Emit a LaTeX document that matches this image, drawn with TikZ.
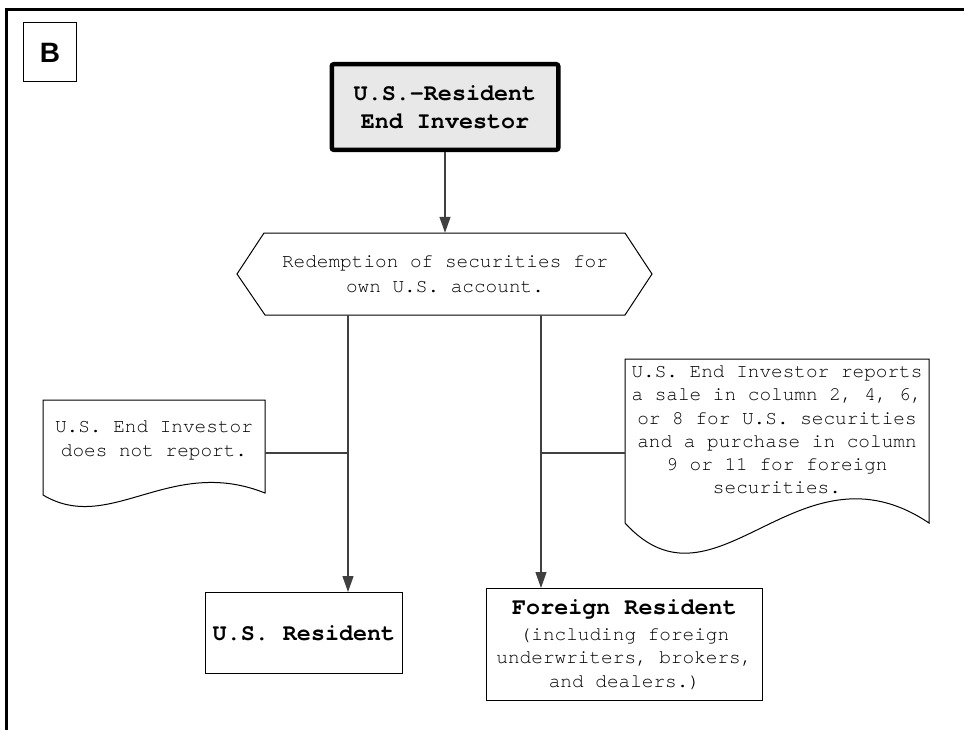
\documentclass[tikz,border=0pt]{standalone}
\usepackage{fontspec}
\setmonofont{TeX Gyre Cursor}
\newfontfamily\arialfont{Liberation Sans}
\usetikzlibrary{arrows.meta}
\begin{document}
\begin{tikzpicture}[x=1bp,y=-1bp,
  txt/.style={font=\fontsize{19.4bp}{23.3bp}\selectfont\ttfamily, align=center, inner sep=0pt},
  boldtxt/.style={font=\fontsize{23.4bp}{28bp}\selectfont\ttfamily\bfseries, align=center, inner sep=0pt},
  topbox/.style={boldtxt, draw=black, line width=4.5bp, fill=black!9, rounded corners=2bp,
                 minimum width=226.5bp, minimum height=85.5bp},
  resbox/.style={draw=black, line width=1bp, inner sep=0pt},
  shapeline/.style={draw=black, line width=1bp},
  conn/.style={draw=black!75, line width=1.2bp},
  tip/.style={-{Triangle[width=11bp,length=16bp]}},
  frame/.style={draw=black, line width=3bp}
]
\useasboundingbox (0,0) rectangle (964,730);
% outer frame
\coordinate (fTL) at (6.7,9.5);
\coordinate (fTR) at (964,9.5);
\coordinate (fBL) at (6.7,730);
\draw[frame] (fTR) -- (fTL) -- (fBL);

% B label
\node[draw=black, line width=1bp, minimum width=52bp, minimum height=59bp, inner sep=0pt,
      font=\arialfont\bfseries\fontsize{28bp}{30bp}\selectfont] (lab) at (50,52.5) {B};

% top box
\node[topbox] (top) at (445,107) {U.S.-Resident\\End Investor};

% hexagon
\draw[shapeline] (237,274) -- (264,233) -- (625,233) -- (652,274) -- (625,315) -- (265,315) -- cycle;
\node[txt, font=\fontsize{19.4bp}{25bp}\selectfont\ttfamily, minimum width=415bp, minimum height=82bp] (hex) at (445,274)
  {Redemption of securities for\\own U.S. account.};

\draw[conn, tip] (top) -- (hex);

% destination boxes
\node[resbox, boldtxt, minimum width=197bp, minimum height=81bp] (usres) at (304,633) {U.S. Resident};
\node[resbox, txt, minimum width=276bp, minimum height=112bp] (forres) at (624.5,644.5)
  {{\fontsize{23.4bp}{28bp}\selectfont\bfseries Foreign Resident}\\[3bp]
   (including foreign\\underwriters, brokers,\\and dealers.)};

% left document
\draw[shapeline, fill=white] (43,400) -- (265,400) -- (265,493)
   .. controls (170,455) and (110,535) .. (43,495) -- cycle;
\node[txt] (ldoc) at (154,440.5) {U.S. End Investor\\does not report.};

% right document
\draw[shapeline, fill=white] (625,359) -- (929,359) -- (929,523)
   .. controls (798,435) and (716,623) .. (625,523) -- cycle;
\node[txt] (rdoc) at (777,430) {U.S. End Investor reports\\a sale in column 2, 4, 6,\\or 8 for U.S. securities\\and a purchase in column\\9 or 11 for foreign\\securities.};

% branch lines
\coordinate (jl) at (348,315);
\coordinate (jr) at (541,315);
\draw[conn, tip] (jl) -- (jl |- usres.north);
\draw[conn, tip] (jr) -- (jr |- forres.north);

\coordinate (ldocR) at (265,453);
\coordinate (rdocL) at (625,453);
\draw[conn] (ldocR) -- (ldocR -| jl);
\draw[conn] (rdocL) -- (rdocL -| jr);
\end{tikzpicture}
\end{document}
